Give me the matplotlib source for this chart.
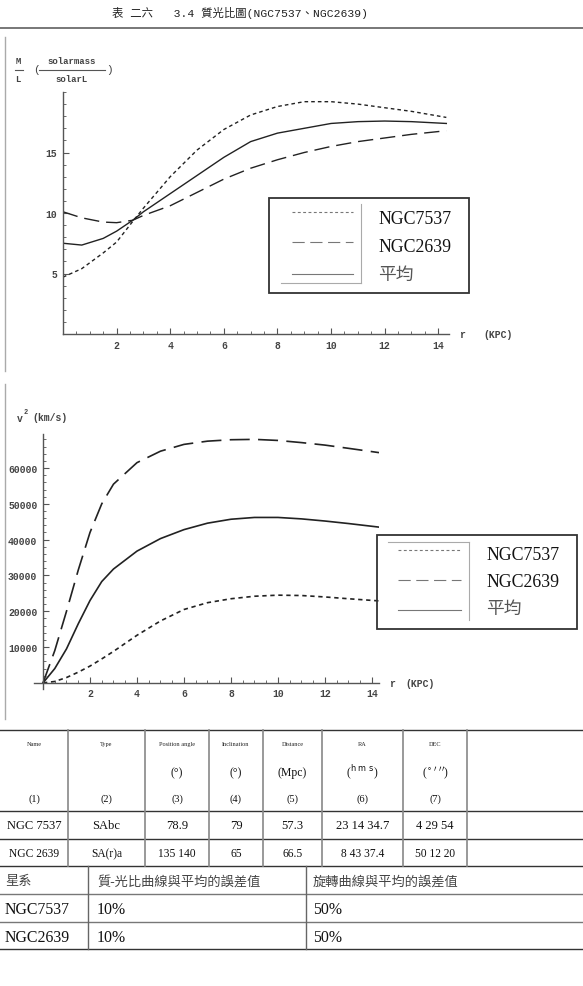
import matplotlib
matplotlib.use('Agg')
import matplotlib.pyplot as plt
from matplotlib.lines import Line2D
from matplotlib.patches import Rectangle
from matplotlib.ticker import MultipleLocator

W, H = 583, 987

# ---- data ----
# mass-to-light ratio vs radius (top chart)
r_ml = [0, 0.7, 1.5, 2.0, 2.6, 3, 4, 5, 6, 7, 8, 9, 10, 11, 12, 13, 14.3]
ml_7537 = [4.7, 5.4, 6.7, 7.6, 9.3, 10.4, 13.0, 15.2, 16.9, 18.1, 18.8, 19.2, 19.2, 19.0, 18.7, 18.4, 17.9]
ml_2639 = [10.1, 9.6, 9.25, 9.2, 9.4, 9.8, 10.6, 11.7, 12.8, 13.7, 14.4, 15.0, 15.5, 15.9, 16.2, 16.5, 16.8]
ml_avg = [7.5, 7.35, 7.9, 8.5, 9.4, 10.1, 11.6, 13.1, 14.6, 15.9, 16.6, 17.0, 17.4, 17.55, 17.6, 17.55, 17.4]

# rotation curve v^2 vs radius (bottom chart)
r_v = [0, 0.5, 1, 1.5, 2, 2.5, 3, 4, 5, 6, 7, 8, 9, 10, 11, 12, 13, 14.3]
v_7537 = [0, 400, 1500, 3000, 4700, 6700, 8800, 13300, 17300, 20500, 22400, 23500, 24200, 24500, 24400, 24000, 23500, 22900]
v_2639 = [0, 9000, 20000, 31500, 42000, 50000, 55500, 61500, 64700, 66600, 67500, 67900, 68000, 67700, 67100, 66400, 65500, 64300]
v_avg = [0, 4000, 9500, 16500, 23000, 28300, 31800, 36800, 40300, 42800, 44600, 45700, 46200, 46200, 45800, 45200, 44500, 43500]

series_names = ['NGC7537', 'NGC2639', '平均']

# galaxy parameter table
col_heads = ['Name', 'Type', 'Position angle', 'Inclination', 'Distance', 'RA', 'DEC']
col_units = ['', '', '(°)', '(°)', '(Mpc)', '($^{\\rm h\\ m\\ s}$)', "($^{\\circ\\ \\prime\\ \\prime\\prime}$)"]
col_nums = ['(1)', '(2)', '(3)', '(4)', '(5)', '(6)', '(7)']
row_7537 = ['NGC 7537', 'SAbc', '78.9', '79', '57.3', '23 14 34.7', '4 29 54']
row_2639 = ['NGC 2639', 'SA(r)a', '135 140', '65', '66.5', '8 43 37.4', '50 12 20']

# error table
err_heads = ['星系', '質-光比曲線與平均的誤差值', '旋轉曲線與平均的誤差值']
err_rows = [['NGC7537', '10%', '50%'], ['NGC2639', '10%', '50%']]

title = '表 二六   3.4 質光比圖(NGC7537、NGC2639)'

# ---- figure ----
fig = plt.figure(figsize=(W / 100, H / 100), dpi=100)
fig.patch.set_facecolor('white')

CJK = ['Liberation Serif', 'Noto Sans CJK TC']
MONO = ['Liberation Mono', 'Noto Sans CJK TC']


def fx(x):
    return x / W


def fy(y):
    return 1 - y / H


def hline(x0, x1, y, color='#444444', lw=1.0, **kw):
    fig.add_artist(Line2D([fx(x0), fx(x1)], [fy(y), fy(y)], transform=fig.transFigure, color=color, lw=lw, **kw))


def vline(x, y0, y1, color='#444444', lw=1.0):
    fig.add_artist(Line2D([fx(x), fx(x)], [fy(y0), fy(y1)], transform=fig.transFigure, color=color, lw=lw))


def txt(x, y, s, size=8, ha='center', family=CJK, color='black', **kw):
    fig.text(fx(x), fy(y), s, ha=ha, va='center', fontsize=size, family=family, color=color, **kw)


def axes_px(left, top, right, bottom):
    return fig.add_axes([fx(left), fy(bottom), (right - left) / W, (bottom - top) / H])


styles = [
    dict(color='#222222', lw=1.0, linestyle=(0, (2.6, 2.2))),
    dict(color='#222222', lw=1.0, linestyle=(0, (11, 5))),
    dict(color='#222222', lw=1.0, linestyle='-'),
]


def style_axes(ax, xminor, yminor):
    for s in ['top', 'right']:
        ax.spines[s].set_visible(False)
    for s in ['left', 'bottom']:
        ax.spines[s].set_position(('data', 0))
        ax.spines[s].set_color('#555555')
        ax.spines[s].set_linewidth(1.0)
    ax.set_xticks([2, 4, 6, 8, 10, 12, 14])
    ax.xaxis.set_minor_locator(MultipleLocator(xminor))
    ax.yaxis.set_minor_locator(MultipleLocator(yminor))
    ax.tick_params(which='major', direction='in', length=4, width=0.8, color='#555555',
                   labelsize=7, pad=4)
    ax.tick_params(which='minor', direction='in', length=2, width=0.6, color='#555555')
    for lab in ax.get_xticklabels() + ax.get_yticklabels():
        lab.set_family('Liberation Mono')
        lab.set_fontweight('bold')
        lab.set_color('#444444')
    ax.patch.set_alpha(0)


def draw_legend(box, samples, text_x, text_ys, frame_lines):
    x0, y0, x1, y1 = box
    fig.add_artist(Rectangle((fx(x0), fy(y1)), (x1 - x0) / W, (y1 - y0) / H, transform=fig.transFigure,
                             fill=False, edgecolor='#333333', lw=1.3))
    for (a, b, c, d) in frame_lines:
        if a == b:
            vline(a, c, d, color='#aaaaaa', lw=0.8)
        else:
            hline(a, b, c, color='#aaaaaa', lw=0.8)
    for i, ((sa, sb, sy), ty) in enumerate(zip(samples, text_ys)):
        st = dict(styles[i])
        st['color'] = '#777777'
        st['lw'] = 0.8
        fig.add_artist(Line2D([fx(sa), fx(sb)], [fy(sy), fy(sy)], transform=fig.transFigure, **st))
        txt(text_x, ty, series_names[i], size=12.8, ha='left',
            color='#111111' if i < 2 else '#555555')


# title and page rules
txt(112, 13, title, size=8.2, ha='left', family=MONO, color='#222222')
hline(0, 583, 29, color='#777777', lw=1.4)
vline(5, 38, 372, color='#aaaaaa', lw=1.0)
vline(5, 385, 720, color='#aaaaaa', lw=1.0)

# ---- top chart: M/L ----
ax1 = axes_px(63, 93, 449, 335)
for y, st in zip([ml_7537, ml_2639, ml_avg], styles):
    ax1.plot(r_ml, y, **st)
ax1.set_xlim(0, 14.4)
ax1.set_ylim(0, 20)
ax1.set_yticks([5, 10, 15])
style_axes(ax1, 0.5, 1)

# y label as stacked fractions
lab = dict(family='Liberation Mono', weight='bold', color='#444444')
txt(18, 61, 'M', size=6.5, **lab)
hline(15, 23, 71, color='#555555', lw=0.8)
txt(18, 80, 'L', size=6.5, **lab)
txt(36, 70, '(', size=8, family='Liberation Mono', color='#444444')
txt(72, 62, 'solarmass', size=6.5, **lab)
hline(39, 105, 71, color='#555555', lw=0.8)
txt(72, 79, 'solarL', size=6.5, **lab)
txt(110, 70, ')', size=8, family='Liberation Mono', color='#444444')
txt(463, 335, 'r', size=7, **lab)
txt(498, 335, '(KPC)', size=7, **lab)

draw_legend((269, 199, 469, 294),
            [(292, 353, 213), (292, 353, 243), (292, 353, 275)],
            378, [220, 248, 275],
            [(361, 361, 205, 284), (281, 361, 284, 284)])

# ---- bottom chart: rotation curve ----
ax2 = axes_px(33.6, 435, 379, 690)
for y, st in zip([v_7537, v_2639, v_avg], styles):
    st = dict(st)
    st['lw'] = 1.2
    if st['linestyle'] == (0, (11, 5)):
        st['linestyle'] = (0, (12, 5))
    ax2.plot(r_v, y, **st)
ax2.set_xlim(-0.4, 14.3)
ax2.set_ylim(-1700, 69500)
ax2.set_yticks([10000, 20000, 30000, 40000, 50000, 60000])
style_axes(ax2, 0.5, 2000)

txt(20, 419, 'v', size=7, **lab)
txt(26, 413, '2', size=5, **lab)
txt(50, 418, '(km/s)', size=7, **lab)
txt(393, 684, 'r', size=7, **lab)
txt(420, 684, '(KPC)', size=7, **lab)

draw_legend((377, 536, 577, 630),
            [(398, 461, 551), (398, 461, 581), (398, 461, 611)],
            486, [555, 583, 609],
            [(469, 469, 543, 621), (388, 469, 543, 543)])

# ---- parameter table ----
col_x = [0, 68, 145, 209, 263, 322, 403, 467, 583]
for y in [731, 812, 840, 867]:
    hline(0, 583, y, color='#333333', lw=1.0)
for x in col_x[1:-1]:
    vline(x, 731, 867, color='#888888', lw=1.2)
for i in range(7):
    cx = (col_x[i] + col_x[i + 1]) / 2
    txt(cx, 745, col_heads[i], size=4.5, color='#222222')
    if col_units[i]:
        txt(cx, 773, col_units[i], size=8.5, color='#111111')
    txt(cx, 799, col_nums[i], size=7.5, color='#111111')
    txt(cx, 826, row_7537[i], size=9, color='#111111')
    txt(cx, 854, row_2639[i], size=8.3, color='#111111')

# ---- error table ----
for y, c in [(895, '#777777'), (923, '#777777'), (950, '#333333')]:
    hline(0, 583, y, color=c, lw=1.0)
vline(88, 867, 950, color='#666666', lw=1.0)
vline(306, 867, 950, color='#666666', lw=1.0)
err_x = [5, 97, 313]
for x, s in zip(err_x, err_heads):
    txt(x, 882, s, size=9.5, ha='left', color='#444444')
for row, y in zip(err_rows, [910, 938]):
    for x, s in zip(err_x, row):
        txt(x, y, s, size=11.4, ha='left', color='#111111')

fig.savefig('out.png', dpi=100, facecolor='white')
